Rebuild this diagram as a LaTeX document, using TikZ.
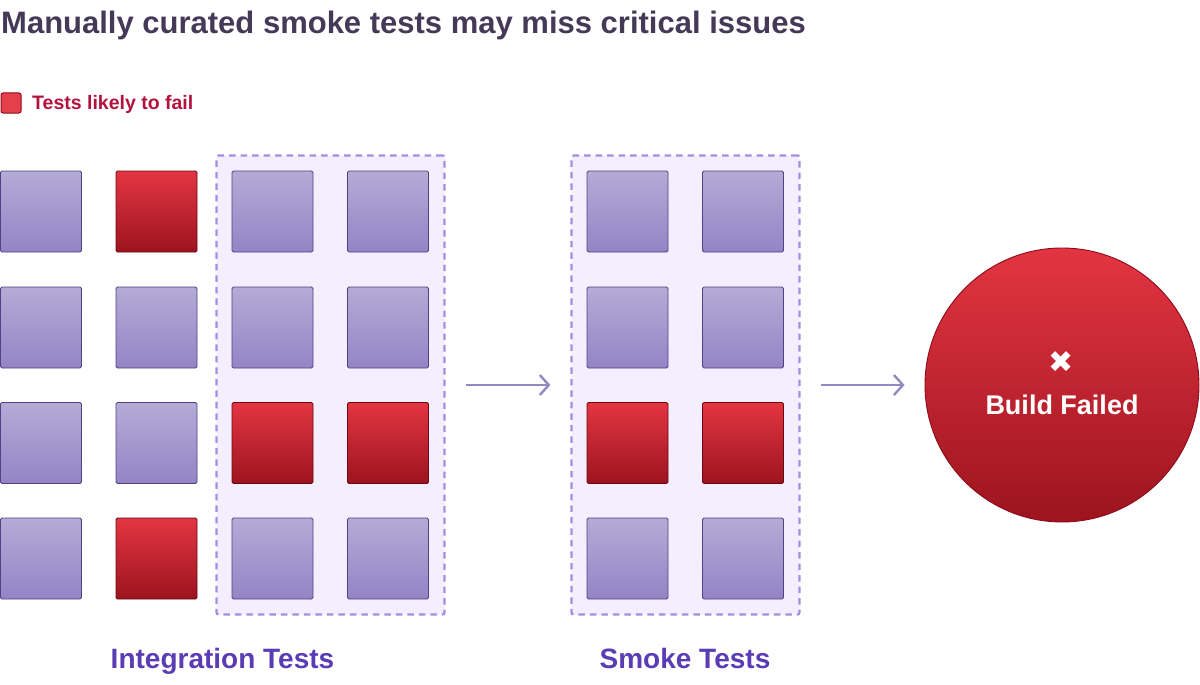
\documentclass[tikz,border=0pt]{standalone}
\usepackage{fontspec}
\setmainfont{Liberation Sans}
\newfontfamily\symfont{DejaVu Sans}
\usetikzlibrary{arrows.meta}
\definecolor{titlecol}{HTML}{443A58}
\definecolor{failcol}{HTML}{B3123E}
\definecolor{labelcol}{HTML}{5A3DB4}
\definecolor{panelfill}{HTML}{F4EEFE}
\definecolor{paneldash}{HTML}{A18FDF}
\definecolor{flowcol}{HTML}{9488C0}
\tikzset{
	test/.style={draw=#1!75!black,rounded corners=1.5pt,line width=0.9pt,minimum size=81pt,inner sep=0pt},
	passtest/.style={draw=black!0,test=passedge,top color=passtop,bottom color=passbot},
	failtest/.style={draw=black!0,test=failedge,top color=failtop,bottom color=failbot},
	panel/.style={draw=paneldash,fill=panelfill,dash pattern=on 6.5pt off 5pt,line width=2.2pt,rounded corners=2pt,minimum width=228pt,minimum height=459pt,inner sep=0pt},
	flow/.style={draw=flowcol,line width=2.4pt,shorten >=20pt,shorten <=20pt,-{Straight Barb[length=9pt,width=20pt,line width=2.4pt]}},
	caption/.style={anchor=base,text=labelcol,font=\fontsize{28}{32}\selectfont\bfseries}
}
\definecolor{passtop}{HTML}{B4ABD6}
\definecolor{passbot}{HTML}{9484C6}
\definecolor{passedge}{HTML}{6A58B0}
\definecolor{failtop}{HTML}{E33542}
\definecolor{failbot}{HTML}{9C141E}
\definecolor{failedge}{HTML}{8E0A1C}
\begin{document}
\begin{tikzpicture}[x=1pt,y=-1pt]
	\useasboundingbox (0,0) rectangle (1200,685);
	\node[anchor=base west,inner sep=0pt,text=titlecol,font=\fontsize{31}{34}\selectfont\bfseries] at (1,34) (title) {Manually curated smoke tests may miss critical issues};
	% legend
	\node[draw=failedge,fill=failtop!95!white,rounded corners=2pt,line width=1pt,minimum size=20pt,inner sep=0pt] at (11,103) (key) {};
	\node[anchor=base west,inner sep=0pt,text=failcol,font=\fontsize{19.5}{22}\selectfont\bfseries] at (32,110) (keytext) {Tests likely to fail};
	% dashed groups
	\node[panel] at (330.5,385) (IT) {};
	\node[panel] at (685.5,385) (ST) {};
	% left grid
	\foreach \cx/\cy/\kind [count=\i] in {41/211.5/passtest,156.5/211.5/failtest,272.5/211.5/passtest,388/211.5/passtest,
		41/327.5/passtest,156.5/327.5/passtest,272.5/327.5/passtest,388/327.5/passtest,
		41/443/passtest,156.5/443/passtest,272.5/443/failtest,388/443/failtest,
		41/558.5/passtest,156.5/558.5/failtest,272.5/558.5/passtest,388/558.5/passtest}
		\node[\kind] at (\cx,\cy) (I\i) {};
	% right grid
	\foreach \cx/\cy/\kind [count=\i] in {627.5/211.5/passtest,743/211.5/passtest,
		627.5/327.5/passtest,743/327.5/passtest,
		627.5/443/failtest,743/443/failtest,
		627.5/558.5/passtest,743/558.5/passtest}
		\node[\kind] at (\cx,\cy) (S\i) {};
	\node[circle,draw=failedge,line width=0.9pt,top color=failtop,bottom color=failbot,minimum size=274pt,inner sep=0pt] at (1062,385) (BF) {};
	\node[text=white,font=\symfont\fontsize{30}{32}\selectfont] at (1061,362) (cross) {✖};
	\node[text=white,font=\fontsize{27}{32}\selectfont\bfseries] at (1062,405) (bftext) {Build Failed};
	\draw[flow] (IT) -- (ST);
	\draw[flow] (ST) -- (BF);
	\node[caption] at (222.5,668) (ITname) {Integration Tests};
	\node[caption] at (685,668) (STname) {Smoke Tests};
\end{tikzpicture}
\end{document}
